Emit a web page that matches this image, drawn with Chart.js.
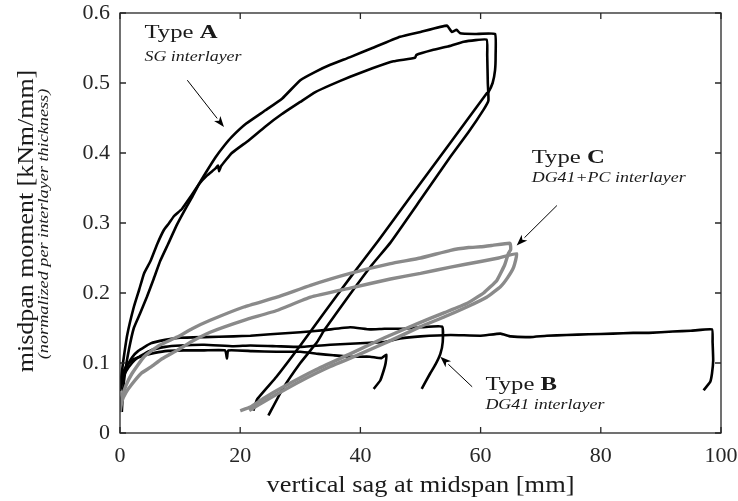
<!DOCTYPE html>
<html>
<head>
<meta charset="utf-8">
<script src="https://cdn.jsdelivr.net/npm/chart.js@4"></script>
<style>
  html, body { margin: 0; padding: 0; background: #fff; }
  #wrap { width: 738px; height: 501px; }
</style>
</head>
<body>
<div id="wrap"><canvas id="sag_chart" width="738" height="501"></canvas></div>
<script>
// axis ticks
var sagTicks = [0, 20, 40, 60, 80, 100];
var momentTicks = [0, 0.1, 0.2, 0.3, 0.4, 0.5, 0.6];

// Type A (SG) - loop with shoulder, lower branch on top
var sagA1 = [0, 0.5, 1.2, 2.3, 3.2, 4.0, 5.1, 6.2, 7.3, 8.1, 9.0, 10.3, 11.7, 13.1, 14.5, 15.9, 16.3, 16.5, 16.8, 18.6, 21.4, 24.2, 27, 30, 32.5, 35, 38.3, 42, 45.5, 49.1, 49.3, 52, 54.5, 57.2, 61, 61.1, 61.2, 61.3, 60.5, 58, 55, 49.9, 45, 41.9, 38, 34, 32.8, 30, 27, 24.7];
var momA1 = [0.065, 0.1, 0.14, 0.18, 0.205, 0.228, 0.246, 0.27, 0.29, 0.299, 0.31, 0.32, 0.337, 0.355, 0.368, 0.378, 0.382, 0.374, 0.381, 0.4, 0.418, 0.438, 0.456, 0.473, 0.487, 0.497, 0.509, 0.521, 0.531, 0.536, 0.54, 0.547, 0.552, 0.559, 0.562, 0.54, 0.5, 0.475, 0.462, 0.43, 0.395, 0.332, 0.272, 0.24, 0.195, 0.147, 0.13, 0.1, 0.062, 0.025];

// Type A (SG) - steeper start, highest peak
var sagA2 = [0.3, 0.5, 0.9, 1.5, 2.3, 3.3, 4.5, 5.6, 6.7, 8, 9.5, 11, 12, 13.1, 14.5, 15.9, 17.3, 18.6, 21, 24.2, 27, 30, 32.5, 35, 38.3, 42, 46.6, 50, 54.4, 55.2, 56, 56.6, 59, 62.4, 62.5, 62.4, 62, 61.3, 61, 55, 48.3, 43, 38.3, 34, 30, 26, 22.8, 22.2];
var momA2 = [0.03, 0.06, 0.09, 0.12, 0.15, 0.17, 0.195, 0.22, 0.246, 0.27, 0.298, 0.322, 0.337, 0.355, 0.375, 0.394, 0.41, 0.423, 0.442, 0.461, 0.478, 0.504, 0.516, 0.526, 0.537, 0.55, 0.566, 0.573, 0.582, 0.573, 0.576, 0.571, 0.57, 0.57, 0.54, 0.518, 0.5, 0.487, 0.485, 0.415, 0.337, 0.275, 0.222, 0.172, 0.125, 0.08, 0.048, 0.032];

// Type B (DG41) - three plateau curves
var sagB1 = [0, 0.5, 1, 2, 3, 5.1, 7.5, 10, 14, 18.9, 21.7, 25, 30, 34, 38.3, 41.6, 44, 47.2, 50, 53.6, 53.7, 53.3, 52.5, 51.6, 50.2];
var momB1 = [0.062, 0.08, 0.092, 0.108, 0.117, 0.128, 0.133, 0.136, 0.137, 0.138, 0.139, 0.141, 0.144, 0.147, 0.151, 0.148, 0.149, 0.149, 0.151, 0.152, 0.13, 0.113, 0.098, 0.085, 0.063];

var sagB2 = [0, 0.5, 1, 2, 3, 5.1, 7.5, 10, 14, 18.9, 21.7, 26, 30, 35, 41.6, 43.9, 46.6, 50, 55, 60, 63.3, 65, 68.2, 71, 74.3, 78, 82, 85.4, 88, 92, 95, 98.5, 98.6, 98.7, 98.5, 98.2, 97.1];
var momB2 = [0.06, 0.078, 0.088, 0.1, 0.108, 0.118, 0.123, 0.125, 0.126, 0.124, 0.125, 0.124, 0.123, 0.126, 0.129, 0.13, 0.135, 0.138, 0.14, 0.139, 0.142, 0.138, 0.137, 0.139, 0.14, 0.141, 0.142, 0.143, 0.143, 0.145, 0.146, 0.148, 0.13, 0.104, 0.085, 0.073, 0.061];

var sagB3 = [0, 0.5, 1, 2, 3, 5, 7.5, 10.6, 14, 17.5, 17.8, 18, 22, 26, 30, 33, 35.5, 38.3, 41.6, 43.5, 44.3, 44.2, 43.9, 43.3, 42.2];
var momB3 = [0.065, 0.085, 0.095, 0.104, 0.108, 0.113, 0.117, 0.118, 0.118, 0.118, 0.106, 0.118, 0.117, 0.116, 0.116, 0.113, 0.111, 0.109, 0.109, 0.107, 0.112, 0.1, 0.09, 0.075, 0.063];

// Type C (DG41+PC) - grey loops
var sagC1 = [0, 0.3, 1, 2, 4, 6.5, 9.5, 12, 15, 20.6, 26.1, 31.7, 38.3, 45, 50, 55, 58, 60, 62, 64.9, 65, 64.6, 64, 62.7, 60.5, 57.7, 54, 49.4, 44, 38.3, 32.5, 27.2, 24, 21.7, 20];
var momC1 = [0.035, 0.05, 0.068, 0.085, 0.109, 0.125, 0.137, 0.149, 0.161, 0.18, 0.194, 0.211, 0.228, 0.242, 0.25, 0.261, 0.265, 0.266, 0.268, 0.271, 0.262, 0.256, 0.24, 0.218, 0.2, 0.185, 0.172, 0.156, 0.136, 0.113, 0.09, 0.066, 0.05, 0.037, 0.032];

var sagC2 = [0, 0.3, 1, 2, 3.5, 5.1, 7, 9.5, 12, 15, 20.6, 26.1, 31.7, 38.3, 45, 50, 55, 60, 63, 66, 65.5, 64.5, 63.3, 61, 57.7, 54, 50, 45, 40, 35, 30, 26, 23, 21.5];
var momC2 = [0.03, 0.045, 0.058, 0.07, 0.085, 0.094, 0.106, 0.118, 0.131, 0.144, 0.161, 0.175, 0.194, 0.207, 0.22, 0.228, 0.237, 0.245, 0.25, 0.256, 0.237, 0.222, 0.209, 0.194, 0.18, 0.166, 0.152, 0.132, 0.113, 0.095, 0.074, 0.055, 0.04, 0.032];

function toPoints(xs, ys) {
    return xs.map(function (x, i) { return { x: x, y: ys[i] }; });
}

var serif = '"Liberation Serif", "Times New Roman", serif';
var black = '#000000';
var grey = '#8a8a8a';

function curve(xs, ys, color, width) {
    return {
        data: toPoints(xs, ys),
        showLine: true,
        borderColor: color,
        borderWidth: width,
        pointRadius: 0,
        tension: 0.12,
        fill: false
    };
}

// annotations, placed in data units
var notes = [
    { head: 'Type ', bold: 'A', sub: 'SG interlayer', x: 4.07, y: 0.565, subY: 0.532 },
    { head: 'Type ', bold: 'C', sub: 'DG41+PC interlayer', x: 68.5, y: 0.386, subY: 0.359 },
    { head: 'Type ', bold: 'B', sub: 'DG41 interlayer', x: 60.8, y: 0.062, subY: 0.034 }
];
var arrows = [
    { from: [11.2, 0.504], to: [17.3, 0.437] },
    { from: [72.7, 0.325], to: [66.0, 0.268] },
    { from: [58.6, 0.066], to: [53.3, 0.109] }
];

function wideText(ctx, str, x, y, sx, align) {
    ctx.save();
    ctx.translate(x, y);
    ctx.scale(sx, 1);
    ctx.textAlign = align || 'left';
    ctx.fillText(str, 0, 0);
    ctx.restore();
}

var decorPlugin = {
    id: 'decor',
    afterDraw: function (chart) {
        var ctx = chart.ctx;
        var a = chart.chartArea;
        var xs = chart.scales.x, ys = chart.scales.y;
        ctx.save();

        // box and inward ticks
        ctx.strokeStyle = '#262626';
        ctx.lineWidth = 1.3;
        ctx.strokeRect(a.left, a.top, a.right - a.left, a.bottom - a.top);
        var tl = 6;
        ctx.beginPath();
        sagTicks.forEach(function (v) {
            var px = xs.getPixelForValue(v);
            ctx.moveTo(px, a.bottom); ctx.lineTo(px, a.bottom - tl);
            ctx.moveTo(px, a.top); ctx.lineTo(px, a.top + tl);
        });
        momentTicks.forEach(function (v) {
            var py = ys.getPixelForValue(v);
            ctx.moveTo(a.left, py); ctx.lineTo(a.left + tl, py);
            ctx.moveTo(a.right, py); ctx.lineTo(a.right - tl, py);
        });
        ctx.stroke();

        // axis titles
        ctx.fillStyle = '#1a1a1a';
        ctx.textBaseline = 'alphabetic';
        ctx.font = '24px ' + serif;
        wideText(ctx, 'vertical sag at midspan [mm]', (a.left + a.right) / 2, 492, 1.1, 'center');

        var midY = (a.top + a.bottom) / 2;
        ctx.save();
        ctx.translate(33, midY - 2);
        ctx.rotate(-Math.PI / 2);
        ctx.font = '24px ' + serif;
        wideText(ctx, 'misdpan moment [kNm/mm]', 0, 0, 1.08, 'center');
        ctx.restore();
        ctx.save();
        ctx.translate(48, midY + 1);
        ctx.rotate(-Math.PI / 2);
        ctx.font = 'italic 14px ' + serif;
        wideText(ctx, '(normalized per interlayer thickness)', 0, 0, 1.3, 'center');
        ctx.restore();

        // annotations
        notes.forEach(function (n) {
            var px = xs.getPixelForValue(n.x);
            var py = ys.getPixelForValue(n.y);
            ctx.font = '19px ' + serif;
            var sx = 1.3;
            var w = ctx.measureText(n.head).width * sx;
            wideText(ctx, n.head, px, py, sx);
            ctx.font = 'bold 19px ' + serif;
            wideText(ctx, n.bold, px + w, py, sx);
            ctx.font = 'italic 14px ' + serif;
            wideText(ctx, n.sub, px, ys.getPixelForValue(n.subY), 1.28);
        });

        ctx.strokeStyle = '#000';
        ctx.fillStyle = '#000';
        ctx.lineWidth = 1;
        arrows.forEach(function (ar) {
            var x0 = xs.getPixelForValue(ar.from[0]), y0 = ys.getPixelForValue(ar.from[1]);
            var x1 = xs.getPixelForValue(ar.to[0]), y1 = ys.getPixelForValue(ar.to[1]);
            var ang = Math.atan2(y1 - y0, x1 - x0);
            var hl = 11, hw = 4;
            var bx = x1 - hl * Math.cos(ang), by = y1 - hl * Math.sin(ang);
            ctx.beginPath();
            ctx.moveTo(x0, y0);
            ctx.lineTo(bx, by);
            ctx.stroke();
            ctx.beginPath();
            ctx.moveTo(x1, y1);
            ctx.lineTo(bx + hw * Math.sin(ang), by - hw * Math.cos(ang));
            ctx.lineTo(bx + 3 * Math.cos(ang), by + 3 * Math.sin(ang));
            ctx.lineTo(bx - hw * Math.sin(ang), by + hw * Math.cos(ang));
            ctx.closePath();
            ctx.fill();
        });
        ctx.restore();
    }
};

var chart = new Chart(document.getElementById('sag_chart').getContext('2d'), {
    type: 'scatter',
    data: {
        datasets: [
            curve(sagC1, momC1, grey, 3.4),
            curve(sagC2, momC2, grey, 3.4),
            curve(sagB1, momB1, black, 2.6),
            curve(sagB2, momB2, black, 2.6),
            curve(sagB3, momB3, black, 2.6),
            curve(sagA1, momA1, black, 2.6),
            curve(sagA2, momA2, black, 2.6)
        ]
    },
    options: {
        responsive: false,
        animation: false,
        layout: { padding: { top: 13, right: 17, left: 0, bottom: 0 } },
        plugins: {
            legend: { display: false },
            tooltip: { enabled: false }
        },
        scales: {
            x: {
                type: 'linear',
                min: 0,
                max: 100,
                grid: { display: false, drawTicks: false },
                border: { display: false },
                afterFit: function (s) { s.height = 68; s.paddingLeft = 0; s.paddingRight = 0; },
                afterBuildTicks: function (s) { s.ticks = sagTicks.map(function (v) { return { value: v }; }); },
                ticks: {
                    padding: 10,
                    color: '#262626',
                    font: { family: serif, size: 22 },
                    maxRotation: 0
                }
            },
            y: {
                type: 'linear',
                min: 0,
                max: 0.6,
                grid: { display: false, drawTicks: false },
                border: { display: false },
                afterFit: function (s) { s.width = 120; s.paddingTop = 0; s.paddingBottom = 0; },
                afterBuildTicks: function (s) { s.ticks = momentTicks.map(function (v) { return { value: v }; }); },
                ticks: {
                    padding: 10,
                    color: '#262626',
                    font: { family: serif, size: 22 },
                    callback: function (v) { return v === 0 ? '0' : v.toFixed(1); }
                }
            }
        }
    },
    plugins: [decorPlugin]
});
</script>
</body>
</html>
